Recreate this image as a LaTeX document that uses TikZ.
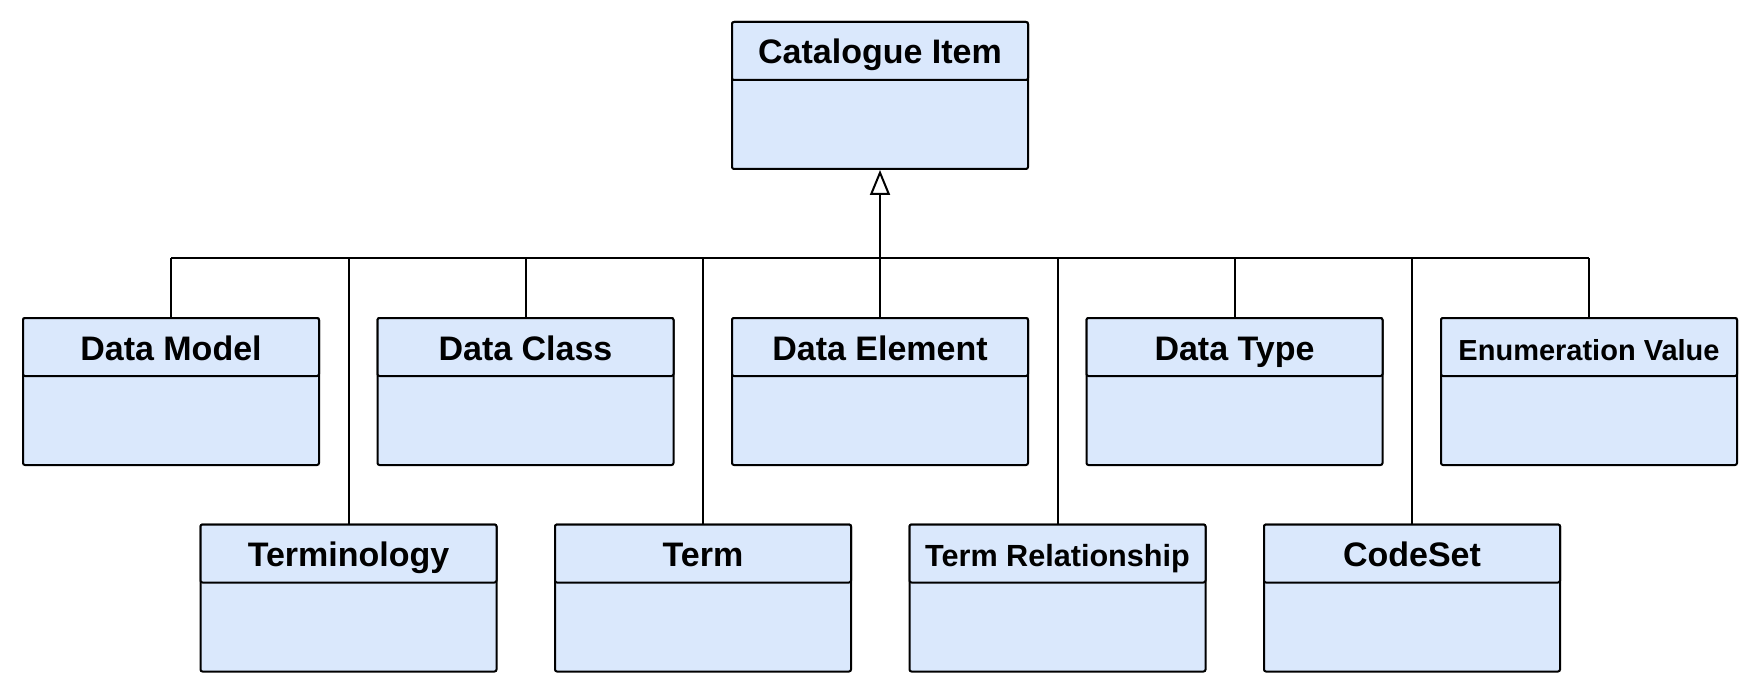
\documentclass[tikz,border=0pt]{standalone}
\usepackage{fontspec}
\setmainfont{Liberation Sans}
\usetikzlibrary{arrows.meta, positioning}
\definecolor{classfill}{HTML}{DAE8FC}

\tikzset{
  cls/.style={draw, fill=classfill, rounded corners=1pt, line width=1pt, minimum width=148pt, minimum height=73.5pt, inner sep=0pt},
  hdr/.style={draw, fill=classfill, rounded corners=1pt, line width=1pt, anchor=north, minimum width=148pt, minimum height=29pt, inner sep=0pt, text height=13pt, text depth=0pt, font=\bfseries\fontsize{17}{20}\selectfont},
  smallhdr/.style={font=\bfseries\fontsize{#1}{17}\selectfont},
  link/.style={line width=1pt},
}

\begin{document}
\begin{tikzpicture}[x=0.5pt, y=-0.5pt, >=Stealth]
  \useasboundingbox (0,0) rectangle (1760,695);

  % Superclass
  \node[cls] (item) at (880,95.5) {};
  \node[hdr] at (item.north) {Catalogue Item};

  % Upper row
  \node[cls] (model) at (171,391.5) {};
  \node[hdr] at (model.north) {Data Model};
  \node[cls] (dclass) at (525.5,391.5) {};
  \node[hdr] at (dclass.north) {Data Class};
  \node[cls] (element) at (880,391.5) {};
  \node[hdr] at (element.north) {Data Element};
  \node[cls] (dtype) at (1234.5,391.5) {};
  \node[hdr] at (dtype.north) {Data Type};
  \node[cls] (enumval) at (1589,391.5) {};
  \node[hdr, smallhdr=14.5] at (enumval.north) {Enumeration Value};

  % Lower row
  \node[cls] (terminology) at (348.5,598) {};
  \node[hdr] at (terminology.north) {Terminology};
  \node[cls] (term) at (703,598) {};
  \node[hdr] at (term.north) {Term};
  \node[cls] (termrel) at (1057.5,598) {};
  \node[hdr, smallhdr=15.3] at (termrel.north) {Term Relationship};
  \node[cls] (codeset) at (1412,598) {};
  \node[hdr] at (codeset.north) {CodeSet};

  % Generalisation
  \coordinate (bus) at (880,258);
  \draw[link] (model.north |- bus) -- (enumval.north |- bus);
  \draw[link, -{Triangle[open, length=12.5pt, width=10pt]}] (bus) -- (item.south);
  \draw[link] (model.north) -- (model.north |- bus);
  \draw[link] (dclass.north) -- (dclass.north |- bus);
  \draw[link] (element.north) -- (bus);
  \draw[link] (dtype.north) -- (dtype.north |- bus);
  \draw[link] (enumval.north) -- (enumval.north |- bus);
  \draw[link] (terminology.north) -- (terminology.north |- bus);
  \draw[link] (term.north) -- (term.north |- bus);
  \draw[link] (termrel.north) -- (termrel.north |- bus);
  \draw[link] (codeset.north) -- (codeset.north |- bus);
\end{tikzpicture}
\end{document}
